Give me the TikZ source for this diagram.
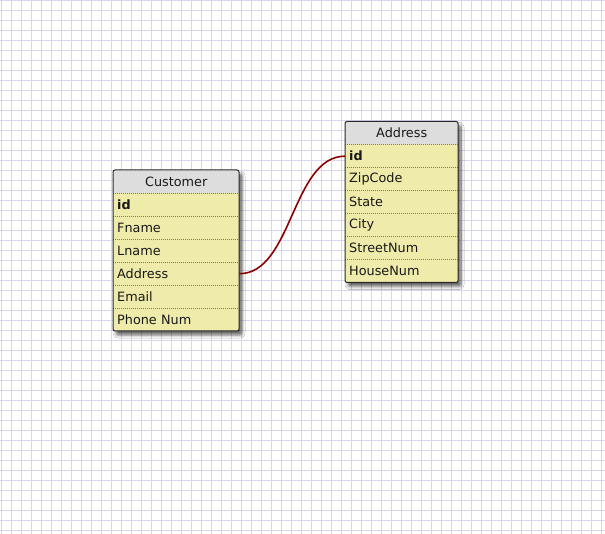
\documentclass[tikz,border=0pt]{standalone}
\usepackage{fontspec}
\setmainfont{DejaVu Sans}
\usetikzlibrary{shadows.blur,calc}

\definecolor{gridline}{RGB}{214,214,240}
\definecolor{headfill}{RGB}{221,221,221}
\definecolor{rowfill}{RGB}{239,235,170}
\definecolor{framecol}{RGB}{40,40,40}
\definecolor{sepcol}{RGB}{120,120,120}
\definecolor{textcol}{RGB}{25,25,25}
\definecolor{linkred}{RGB}{140,0,0}

\tikzset{
  frame/.style={draw=framecol, line width=1pt, rounded corners=2pt},
  tablebody/.style={fill=rowfill, rounded corners=2pt,
    blur shadow={shadow xshift=3pt, shadow yshift=-4pt,
                 shadow blur radius=3pt, shadow opacity=60}},
  headcell/.style={anchor=north west, minimum height=23pt, inner xsep=4pt,
    inner ysep=0pt, text width=#1, align=center, text=textcol},
  fieldcell/.style={anchor=north west, minimum height=23pt, inner xsep=4pt,
    inner ysep=0pt, text width=#1, align=left, text=textcol},
  separator/.style={draw=sepcol, line width=0.8pt, dash pattern=on 1pt off 1pt},
  link/.style={draw=linkred, line width=1.6pt},
  gridrule/.style={draw=gridline, line width=1pt}
}

% \erdtable{prefix}{x}{y}{width}{title}{fields}  -- six fields, 23pt rows
\newcommand{\erdtable}[6]{%
  \pgfmathsetmacro{\tw}{#4}
  \pgfmathsetmacro{\txtw}{#4-8}
  \path[tablebody] (#2,#3) rectangle ++(\tw,161);
  \fill[headfill] (#2,#3+23) [rounded corners=2pt] -- (#2,#3) -- (#2+\tw,#3)
        [sharp corners] -- (#2+\tw,#3+23) -- cycle;
  \node[headcell=\txtw pt] (#1-h) at (#2,#3) {#5};
  \foreach \f [count=\i] in {#6} {
    \node[fieldcell=\txtw pt] (#1-\i) at (#2,#3+23*\i) {\f};
    \draw[separator] (#2,#3+23*\i) -- ++(\tw,0);
  }
  \draw[frame] (#2,#3) rectangle ++(\tw,161);
}

\begin{document}
\begin{tikzpicture}[x=1pt, y=-1pt, font=\fontsize{12.8}{15}\selectfont]
  \useasboundingbox (0,0) rectangle (605,534);
  \fill[white] (0,0) rectangle (605,534);

  % background grid, one-pixel rules every 10
  \foreach \gx in {1.5,11.5,...,601.5} \draw[gridrule] (\gx,0) -- (\gx,534);
  \foreach \gy in {0.5,10.5,...,530.5} \draw[gridrule] (0,\gy) -- (605,\gy);

  \erdtable{cust}{113}{170}{126}{Customer}%
    {\textbf{id},Fname,Lname,Address,Email,Phone Num}
  \erdtable{addr}{345}{121.5}{113}{Address}%
    {\textbf{id},ZipCode,State,City,StreetNum,HouseNum}

  % relationship: Customer.Address -> Address.id
  \draw[link] (cust-4.east) .. controls +(53,0) and +(-53,0) .. (addr-1.west);
\end{tikzpicture}
\end{document}
